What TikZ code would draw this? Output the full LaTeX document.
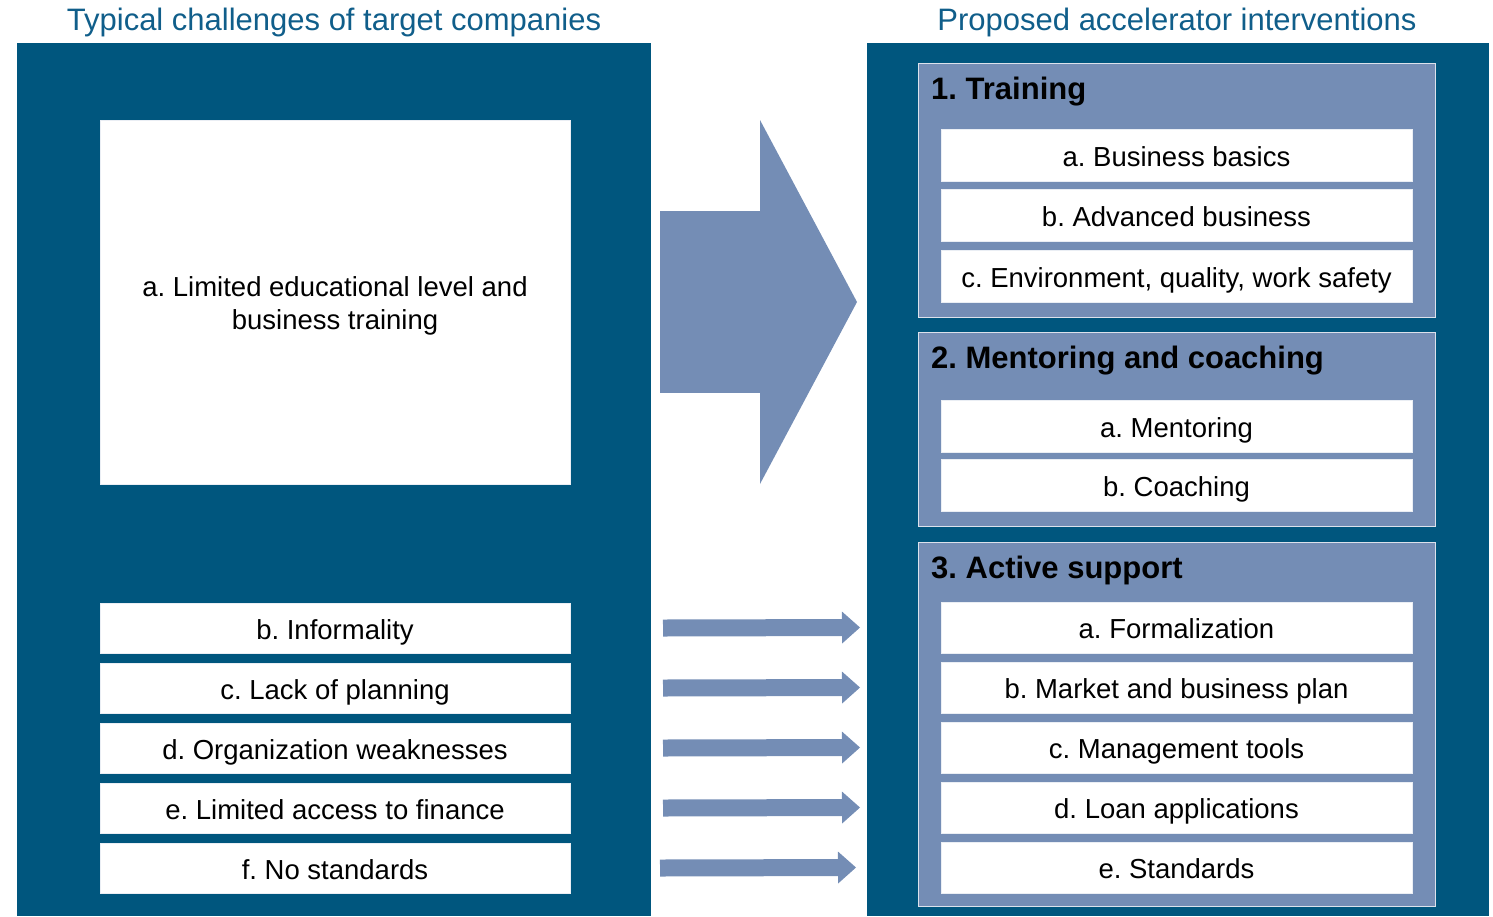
\documentclass[tikz,border=0pt]{standalone}
\usepackage{fontspec}
\setmainfont{Liberation Sans}
\frenchspacing
\usetikzlibrary{calc}
\usetikzlibrary{positioning}
\usetikzlibrary{arrows.meta}
\definecolor{darkpanel}{RGB}{0,86,126}
\definecolor{lightpanel}{RGB}{116,141,181}
\definecolor{titleblue}{RGB}{16,94,138}
\newcommand{\bodyfont}{\fontsize{27.5}{33}\selectfont}
\newcommand{\headfont}{\fontsize{31}{37}\selectfont\bfseries}
\newcommand{\titlefont}{\fontsize{31}{37}\selectfont}
\tikzstyle{panelnode} = [fill=darkpanel, minimum width=634pt, minimum height=873pt, anchor=north west, inner sep=0pt, outer sep=0pt]
\tikzstyle{groupnode} = [draw=white!75!lightpanel, line width=1pt, fill=lightpanel, minimum width=517pt, anchor=north west, inner sep=0pt, outer sep=0pt]
\tikzstyle{itemnode} = [draw=white!85!lightpanel, fill=white, minimum width=471pt, minimum height=51pt, inner sep=0pt, outer sep=0pt, font=\bodyfont, text height=22.5pt, text depth=0pt, align=center]
\tikzstyle{headnode} = [font=\headfont, anchor=west, inner sep=0pt]
\tikzstyle{titlenode} = [text=titleblue, font=\titlefont, inner sep=0pt]
\tikzstyle{bigarrow} = [draw=lightpanel, line width=182pt, -{Triangle[length=97pt, width=364pt, line width=0pt]}]
\tikzstyle{smallarrow} = [draw=lightpanel, line width=17pt, -{Triangle[length=18pt, width=32pt, line width=0pt]}]

\begin{document}
\begin{tikzpicture}[x=1pt, y=-1pt]
  \useasboundingbox (0,0) rectangle (1493,916);

  % left column
  \node[titlenode] (lefttitle) at (334,22) {Typical challenges of target companies};
  \node[panelnode] (leftpanel) at (17,43) {};
  \node[itemnode, minimum width=470pt, minimum height=364pt, text height=55pt] (edu) at (335,302) {a. Limited educational level and\\business training};
  \node[itemnode, minimum width=470pt, minimum height=50pt, anchor=north west] (infor) at (100,603) {b. Informality};
  \node[itemnode, minimum width=470pt, minimum height=50pt, below=10pt of infor] (plan) {c. Lack of planning};
  \node[itemnode, minimum width=470pt, minimum height=50pt, below=10pt of plan] (weak) {d. Organization weaknesses};
  \node[itemnode, minimum width=470pt, minimum height=50pt, below=10pt of weak] (fin) {e. Limited access to finance};
  \node[itemnode, minimum width=470pt, minimum height=50pt, below=10pt of fin] (nostd) {f. No standards};

  % right column
  \node[titlenode] (righttitle) at (1177,22) {Proposed accelerator interventions};
  \node[panelnode, minimum width=622pt] (rightpanel) at (867,43) {};

  \node[groupnode, minimum height=254pt] (train) at (918,63) {};
  \node[headnode] (trainhead) at ($(train.north west)+(13,29)$) {1. Training};
  \node[itemnode, minimum height=52pt, below=66pt of train.north] (basics) {a. Business basics};
  \node[itemnode, minimum height=52pt, below=8pt of basics] (adv) {b. Advanced business};
  \node[itemnode, minimum height=52pt, below=9pt of adv] (env) {c. Environment, quality, work safety};

  \node[groupnode, minimum height=194pt] (mentor) at (918,332) {};
  \node[headnode] (mentorhead) at ($(mentor.north west)+(13,29)$) {2. Mentoring and coaching};
  \node[itemnode, minimum height=52pt, below=68pt of mentor.north] (ment) {a. Mentoring};
  \node[itemnode, minimum height=52pt, below=7pt of ment] (coach) {b. Coaching};

  \node[groupnode, minimum height=364pt] (active) at (918,542) {};
  \node[headnode] (activehead) at ($(active.north west)+(13,28)$) {3. Active support};
  \node[itemnode, below=60pt of active.north] (formal) {a. Formalization};
  \node[itemnode, below=9pt of formal] (market) {b. Market and business plan};
  \node[itemnode, below=9pt of market] (tools) {c. Management tools};
  \node[itemnode, below=9pt of tools] (loan) {d. Loan applications};
  \node[itemnode, below=9pt of loan] (stand) {e. Standards};

  % arrows
  \draw[bigarrow] ($(edu.east)+(90,0)$) -- ($(edu.east)+(287,0)$);
  \foreach \src/\dst/\a/\b in {infor/formal/93/81, plan/market/93/81, weak/tools/93/81, fin/loan/93/81, nostd/stand/90/85}
    \draw[smallarrow] ($(\src.east)+(\a,0)$) -- ($(\dst.west)+(-\b,0)$);
\end{tikzpicture}
\end{document}
